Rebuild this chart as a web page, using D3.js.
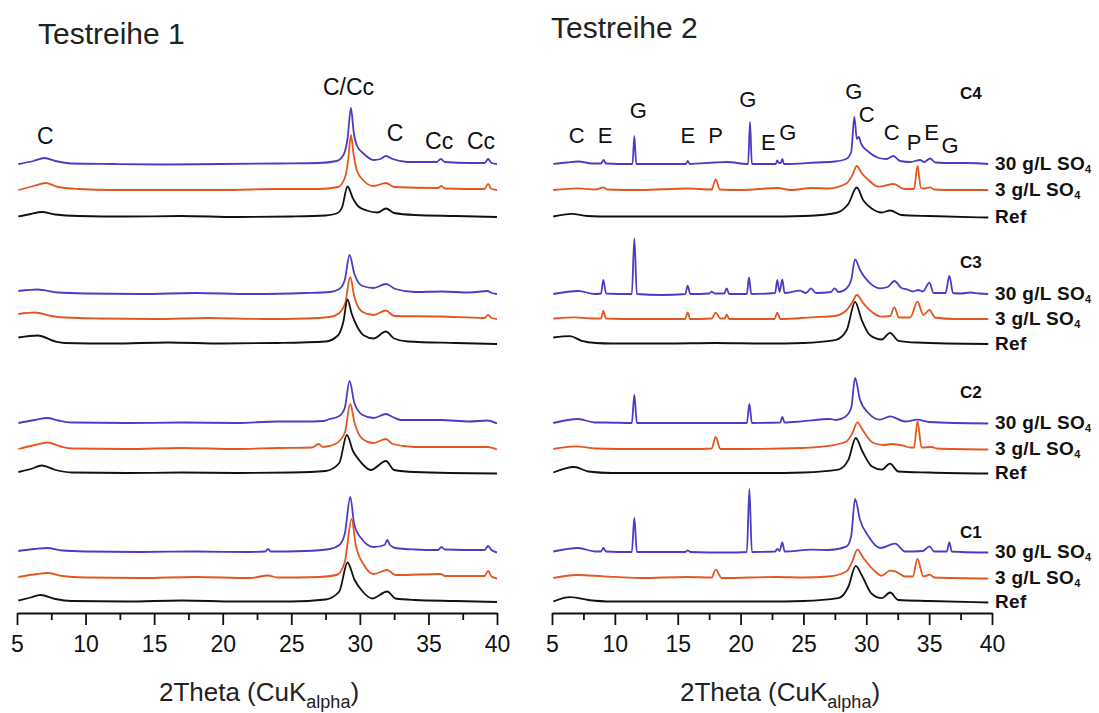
<!DOCTYPE html>
<html><head><meta charset="utf-8">
<script src="https://cdn.jsdelivr.net/npm/d3@7"></script>
<style>
body{margin:0;background:#fff}
svg{display:block}
text{font-family:"Liberation Sans",Arial,Helvetica,sans-serif}
</style>
</head><body>
<svg id="c" width="1099" height="713"></svg>
<script>
// ---------- DATA: [2Theta, intensity above own baseline (a.u.)] ----------
// Testreihe 1
const L_C4_30 = [[5.1,0],[6.2,3],[7.0,6],[7.8,3],[9,0.5],[12,0],[16,-0.5],[20,0],[24,0.5],[27,1],[28.3,3],[28.8,9],[29.1,25],[29.35,56],[29.55,32],[29.8,18],[30.3,10],[31,4],[31.5,5],[31.9,8],[32.4,5],[33.5,2],[35.6,2],[35.9,5],[36.2,2],[38,1],[39.1,1],[39.35,5],[39.6,1],[40,0]];
const L_C4_3  = [[5.1,0],[6.2,4],[7.1,7],[8,3],[9.5,1],[12,0],[16,0],[20,0],[24,1],[27,1],[28.4,3],[28.9,12],[29.15,30],[29.35,55],[29.55,35],[29.8,19],[30.3,9],[31,4],[31.9,7],[32.5,3],[35.7,2],[35.95,4],[36.2,1.5],[39.1,1],[39.35,6],[39.6,1],[40,0]];
const L_C4_Ref= [[5.1,0],[6,2.5],[6.8,4.5],[7.8,2],[9.5,0.5],[13,0],[17,0.5],[21,-0.5],[25,0],[27.5,1],[28.3,3],[28.7,9],[29.1,30],[29.5,18],[29.9,10],[30.5,6],[31.3,4],[31.9,8],[32.5,3.5],[34,1.5],[37,0.5],[40,-0.5]];
const L_C3_30 = [[5.1,3],[6.5,4.5],[8,1.5],[10,0.5],[14,0],[18,1],[22,0],[26,1],[27.8,2],[28.5,5],[28.9,14],[29.25,39],[29.6,20],[30.2,8],[31,6],[31.9,10],[32.6,5],[34,2],[36,2.5],[38,1.5],[39.3,3],[39.6,1],[40,0]];
const L_C3_3  = [[5.1,5],[6.3,6.5],[7.5,3],[8.5,1.5],[11,0.5],[15,0],[19,1],[23,0],[26,0.5],[27.8,2],[28.5,6],[28.95,17],[29.3,42],[29.6,22],[30.2,7],[31,4],[31.9,8.5],[32.5,3],[35.9,2.5],[39.1,1],[39.35,4],[39.6,1],[40,0]];
const L_C3_Ref= [[5.1,6],[6.5,8],[7.8,2],[8.5,0.5],[12,0],[16,1],[20,0],[24,0.5],[27.5,2],[28.4,8],[28.8,22],[29.1,44],[29.4,30],[29.8,17],[30.3,8],[31,5],[31.9,12],[32.5,5],[33.5,2],[37,0.5],[40,-0.5]];
const L_C2_30 = [[5.1,0],[6.3,3],[7.2,5],[8,2.5],[9,0.5],[13,0],[17,0.5],[21,0],[24,1.5],[26,1.5],[27.3,2],[27.7,3.5],[28.5,7],[28.9,15],[29.25,42],[29.6,20],[30.2,8],[31,5],[31.9,9],[32.4,6],[33,3],[35.9,3],[38,1.5],[39.3,2.5],[40,-0.5]];
const L_C2_3  = [[5.1,0],[6.3,4],[7.2,6.5],[8.2,2.5],[9,0.5],[13,0],[17,1],[21,0],[24,1],[26.5,1.5],[27.0,5],[27.3,2],[28.2,5],[28.9,16],[29.3,45],[29.6,27],[30.2,10],[31,6],[31.9,10],[32.4,5],[34,2],[36,2],[39.3,2],[40,-0.5]];
const L_C2_Ref= [[5.1,1],[6,4],[6.8,7.5],[7.8,3],[9,0.5],[13,0],[17,0.5],[21,0],[25,0.5],[27.5,2],[28.5,10],[29.05,38],[29.5,22],[30,12],[30.8,3],[31.9,12],[32.5,3],[34,1],[40,-0.5]];
const L_C1_30 = [[5.1,1],[6.3,3],[7.2,4],[8.3,1.5],[10,0.5],[14,0],[18,0.5],[22,0],[23.1,0.5],[23.3,3],[23.5,0.5],[26,1],[27.8,3],[28.5,7],[28.9,18],[29.3,55],[29.6,27],[30.2,12],[31,5],[31.8,7],[32.0,12],[32.2,7],[32.6,4],[34,2.5],[35.7,2],[35.95,5],[36.2,2.5],[39.1,2],[39.35,6],[39.6,2],[40,-0.5]];
const L_C1_3  = [[5.1,1],[6.5,4],[7.3,5],[8.3,2],[10,0.5],[14,0],[18,1],[22,0],[23.3,2.5],[24,0.5],[27,1],[28.3,3],[28.9,16],[29.4,59],[29.7,33],[30.3,13],[31,4],[32,8],[32.6,3],[35.9,4],[36.2,2],[39.1,2],[39.35,7],[39.6,1.5],[40,-0.5]];
const L_C1_Ref= [[5.1,1],[6,4],[6.7,6.5],[7.8,2.5],[9,0.5],[13,0],[17,1],[21,0],[25,0],[27.5,2],[28.5,10],[29.1,39],[29.6,22],[30.2,10],[30.9,3],[32,10],[32.6,3],[34,1.5],[37,0.5],[40,-0.5]];
// Testreihe 2
const R_C4_30 = [[5.1,0],[6.2,1.5],[7.1,2.5],[8.2,0.5],[8.9,0.5],[9.1,4],[9.3,0.5],[11.4,0],[11.55,28],[11.7,0],[13.5,0],[15.65,0],[15.8,3],[15.95,0],[17.9,1.5],[18.9,2],[20.6,0],[20.75,42],[20.9,0],[22.8,0],[22.92,3.5],[23.05,1],[23.2,1],[23.32,5],[23.45,0],[26,1.5],[27.5,2.5],[28.4,5],[28.8,12],[29.05,47],[29.25,25],[29.4,27],[29.6,20],[30.2,12],[31.0,6],[31.6,5],[32.15,8],[32.7,3],[33.5,2],[34.28,4],[34.6,2],[35.07,5.5],[35.5,1.5],[36.9,1],[38,1],[39.7,0]];
const R_C4_3  = [[5.1,0],[7.1,1.7],[8.5,0.5],[9.08,2.7],[9.4,0.5],[12,0],[15.8,1.5],[17.7,0.5],[18.02,10.7],[18.35,0.5],[20,0],[22.92,2],[24,0],[25.66,2],[27,1.5],[28.44,6.7],[28.9,15],[29.24,24],[29.64,16.7],[30.17,10],[30.96,3.3],[32.2,6],[33,1],[33.8,1],[34.07,24],[34.35,2],[34.6,1.5],[35.07,2.7],[35.4,0.5],[37,0],[39.7,0]];
const R_C4_Ref= [[5.1,0],[6.56,2.7],[7.8,0.5],[9.75,0],[14,0],[18,0],[22,0],[25,0.5],[27.1,2.5],[27.78,4.3],[28.58,12.7],[29.24,29],[29.77,16],[30.43,8],[31.23,4],[31.89,6],[32.8,1.5],[35,0.5],[39.7,-1]];
const R_C3_30 = [[5.1,0],[7.09,3],[8.4,0],[8.9,0.5],[9.08,14],[9.3,0.5],[11.35,0],[11.55,55.7],[11.75,0],[13.72,-1],[15.6,0],[15.79,8.3],[16.0,0],[17.5,0.5],[17.7,2.3],[17.95,0.5],[18.7,0.5],[18.89,5.7],[19.1,0],[20.5,0],[20.67,16.7],[20.85,0],[22.75,1],[22.92,14],[23.1,2],[23.32,14.7],[23.5,1],[24.73,3.3],[25.2,1],[25.6,5.7],[26,1],[27.2,2],[27.46,5.7],[27.8,2],[28.44,5.7],[28.8,14],[29.11,34.7],[29.5,24],[30.17,12.3],[31.09,5.7],[31.7,7],[32.23,13],[32.8,6],[33.22,4.7],[33.7,2.5],[34.14,4],[34.5,2.5],[35.02,11.3],[35.35,1],[36.3,1],[36.61,18],[36.9,1],[37.5,0.5],[38.3,1.5],[39,0.5],[39.7,0]];
const R_C3_3  = [[5.1,0.5],[6.83,1.7],[8.2,0.5],[8.9,0.5],[9.08,8],[9.3,0.5],[12,0],[15.6,0],[15.79,6.7],[16,0],[17.7,0.5],[18.02,6.3],[18.4,0.5],[18.75,0.5],[18.89,4.7],[19.1,0],[22.7,0],[22.92,6.3],[23.15,0],[25.66,1.7],[27.51,3],[28.44,9],[28.9,17],[29.24,24],[29.77,15.7],[30.43,7.3],[31.23,2.3],[31.9,3],[32.23,11.7],[32.6,1.5],[33.5,1.5],[34.07,17.3],[34.54,4],[35.02,9],[35.47,1.5],[37,0],[39.7,0]];
const R_C3_Ref= [[5.1,6],[6.43,7.3],[7.36,2.7],[8.5,0.5],[9.75,0],[14,0],[18,0.5],[22,0],[25,0.5],[27.51,3.3],[28.44,13.3],[29.11,41.7],[29.64,23.3],[30.3,8.3],[31.23,4],[31.89,10.7],[32.55,2.7],[34,1],[39.7,-0.5]];
const R_C2_30 = [[5.1,0],[7.09,4],[8.4,0.5],[9.22,0.5],[11.35,0],[11.55,28.3],[11.75,0],[15.58,0],[18,0],[20.5,0],[20.7,19],[20.9,0],[23.15,0.5],[23.32,6],[23.5,0.5],[24.86,1.7],[27.12,4],[27.6,3],[28.31,6],[28.8,15],[29.11,45],[29.5,23.3],[30.17,10],[31.09,3.3],[31.89,6.7],[33.08,1.5],[34.07,3.3],[35,1],[39.7,-0.5]];
const R_C2_3  = [[5.1,0],[6.83,2.7],[8.5,0.5],[12,0],[16,0],[17.7,0.5],[18.02,12],[18.4,0],[20,0],[24.86,1],[27.12,3.3],[28.44,7.7],[28.9,16],[29.29,26.7],[29.77,17.7],[30.56,6],[31.4,4],[32.02,5],[32.95,3.3],[33.5,1.5],[33.8,1.5],[34.07,27.7],[34.4,1.5],[35.21,2],[35.6,0.5],[39.7,-0.5]];
const R_C2_Ref= [[5.1,0.5],[6.77,6],[7.89,1.5],[9.75,0],[14,0],[18,0],[22,0],[25,0.5],[27.78,3.3],[28.58,13.3],[29.16,35],[29.69,21.7],[30.43,6.7],[31.23,3.3],[31.89,9.3],[32.55,1.5],[35,0.5],[39.7,-0.5]];
const R_C1_30 = [[5.1,0.5],[7.09,4],[8.42,0.5],[8.9,0.5],[9.08,4],[9.3,0.5],[11.35,0],[11.55,34],[11.75,0],[15.6,0],[15.79,1.7],[16,0],[18.89,-0.5],[20.5,0],[20.7,63],[20.9,0],[22.75,0.5],[22.92,3],[23.1,1],[23.32,9.7],[23.5,0.5],[25.66,2.3],[27,2],[28.44,5.7],[28.8,16],[29.11,53],[29.5,32.3],[30.17,15.7],[31.09,4],[32.3,8.3],[33.08,0.5],[34.5,1],[35.02,5.7],[35.4,0.5],[36.4,0.5],[36.61,9.7],[36.8,0.5],[37.5,0],[39.7,-0.5]];
const R_C1_3  = [[5.1,0],[6.96,3],[9.08,1.7],[12,0],[15.79,1],[17.7,0.5],[18.02,8.3],[18.5,0],[22.92,1],[25,0.5],[27,1.5],[28.44,6.7],[28.9,17],[29.29,28.3],[29.77,20],[30.56,8.3],[31.23,2.3],[31.89,7.3],[32.29,6.7],[33.08,1.5],[33.7,1.5],[34.07,19],[34.54,1.5],[35.07,3.3],[35.4,0.5],[39.7,-0.5]];
const R_C1_Ref= [[5.1,0],[6.43,4.3],[7.89,1.5],[9.75,0],[14,0],[18,0],[22,0],[25,0.5],[27.78,3.3],[28.58,15],[29.16,35.7],[29.69,25],[30.43,7.7],[31.23,3.3],[31.89,9],[32.55,1.5],[35,0.5],[39.7,-1]];

const groups  = ["C4","C3","C2","C1"];
const samples = ["30 g/L SO", "3 g/L SO", "Ref"];
const sampleSub = ["4","4",""];
// stacking offsets (a.u.) per group row: [30 g/L, 3 g/L, Ref]
const stackOffsets = [[449,423,396.5],[319,294,269.5],[190,164,140],[61,35,11.5]];
const xTicks = [5,10,15,20,25,30,35,40];
const xMinor = [7.5,12.5,17.5,22.5,27.5,32.5,37.5];
// phase labels: [text, 2Theta, level (a.u.)]
const phasesLeft  = [["C",7.06,469],["C/Cc",29.17,518],["C",32.56,472],["Cc",35.78,464],["Cc",38.83,464]];
const phasesRight = [["C",6.96,470],["E",9.22,470],["G",11.87,495],["E",15.8,470],["P",18.02,470],["G",20.57,506],["E",22.2,463],["G",23.75,473],["G",29.0,514],["C",30.04,491],["C",32.02,473],["P",33.8,463],["E",35.2,473],["G",36.66,460]];
// group label level (a.u.)
const groupLevels = [514, 345, 215, 75];

const leftTraces  = [[L_C4_30,L_C4_3,L_C4_Ref],[L_C3_30,L_C3_3,L_C3_Ref],[L_C2_30,L_C2_3,L_C2_Ref],[L_C1_30,L_C1_3,L_C1_Ref]];
const rightTraces = [[R_C4_30,R_C4_3,R_C4_Ref],[R_C3_30,R_C3_3,R_C3_Ref],[R_C2_30,R_C2_3,R_C2_Ref],[R_C1_30,R_C1_3,R_C1_Ref]];

// ---------- STYLE ----------
const colors = ["#4b3cc4","#e3561f","#111111"];
const FONT = '"Liberation Sans",Arial,Helvetica,sans-serif';

const svg = d3.select("#c");
const y = d3.scaleLinear().domain([0,600]).range([613,13]);

const panels = [
  {traces:leftTraces, range:[17,497], title:"Testreihe 1", tx:38, ty:44, phases:phasesLeft, phaseSize:23, labels:false, axShift:2},
  {traces:rightTraces, range:[552,992], title:"Testreihe 2", tx:551, ty:38, phases:phasesRight, phaseSize:22, labels:true, axShift:8}
];

panels.forEach(p => {
  const x = d3.scaleLinear().domain([5,40]).range(p.range);
  const g = svg.append("g");

  // title
  g.append("text").attr("x",p.tx).attr("y",p.ty).attr("font-size",30).attr("fill","#222").text(p.title);

  // traces
  p.traces.forEach((row,ri) => {
    row.forEach((tr,si) => {
      const off = stackOffsets[ri][si];
      const line = d3.line().x(d=>x(d[0])).y(d=>y(d[1]+off)).curve(d3.curveMonotoneX);
      g.append("path").attr("d",line(tr)).attr("fill","none")
        .attr("stroke",colors[si]).attr("stroke-width",1.8).attr("stroke-linejoin","round");
      if (p.labels) {
        const t = g.append("text").attr("x",x(40)+3).attr("y",y(off)+6)
          .attr("font-size",19).attr("font-weight","bold").attr("letter-spacing",0.3)
          .attr("fill","#111").text(samples[si]);
        if (sampleSub[si]) t.append("tspan").attr("font-size",11).attr("dy",3).text(sampleSub[si]);
      }
    });
    if (p.labels) {
      g.append("text").attr("x",x(37.45)).attr("y",y(groupLevels[ri]))
        .attr("font-size",17).attr("font-weight","bold").attr("fill","#111").text(groups[ri]);
    }
  });

  // phase letters
  g.selectAll("text.ph").data(p.phases).join("text").attr("class","ph")
    .attr("x",d=>x(d[1])).attr("y",d=>y(d[2])).attr("text-anchor","middle")
    .attr("font-size",p.phaseSize).attr("fill","#111").text(d=>d[0]);

  // axis
  const ax = g.append("g").attr("transform",`translate(0,${y(0)})`)
    .call(d3.axisBottom(x).tickValues(xTicks).tickSize(12).tickPadding(11).tickSizeOuter(0));
  ax.attr("font-family",FONT).attr("font-size",23);
  ax.select(".domain").attr("stroke","#111").attr("stroke-width",1.8);
  ax.selectAll(".tick line").attr("stroke","#111").attr("stroke-width",1.8);
  ax.selectAll(".tick text").attr("fill","#111");
  const axm = g.append("g").attr("transform",`translate(0,${y(0)})`)
    .call(d3.axisBottom(x).tickValues(xMinor).tickSize(7).tickFormat(""));
  axm.select(".domain").remove();
  axm.selectAll(".tick line").attr("stroke","#111").attr("stroke-width",1.8);

  // axis title
  const cx = (p.range[0]+p.range[1])/2 + p.axShift;
  const at = g.append("text").attr("x",cx).attr("y",701).attr("text-anchor","middle")
    .attr("font-size",26).attr("fill","#222");
  at.append("tspan").text("2Theta (CuK");
  at.append("tspan").attr("font-size",18).attr("dy",7).text("alpha");
  at.append("tspan").attr("dy",-7).text(")");
});
</script>
</body></html>
